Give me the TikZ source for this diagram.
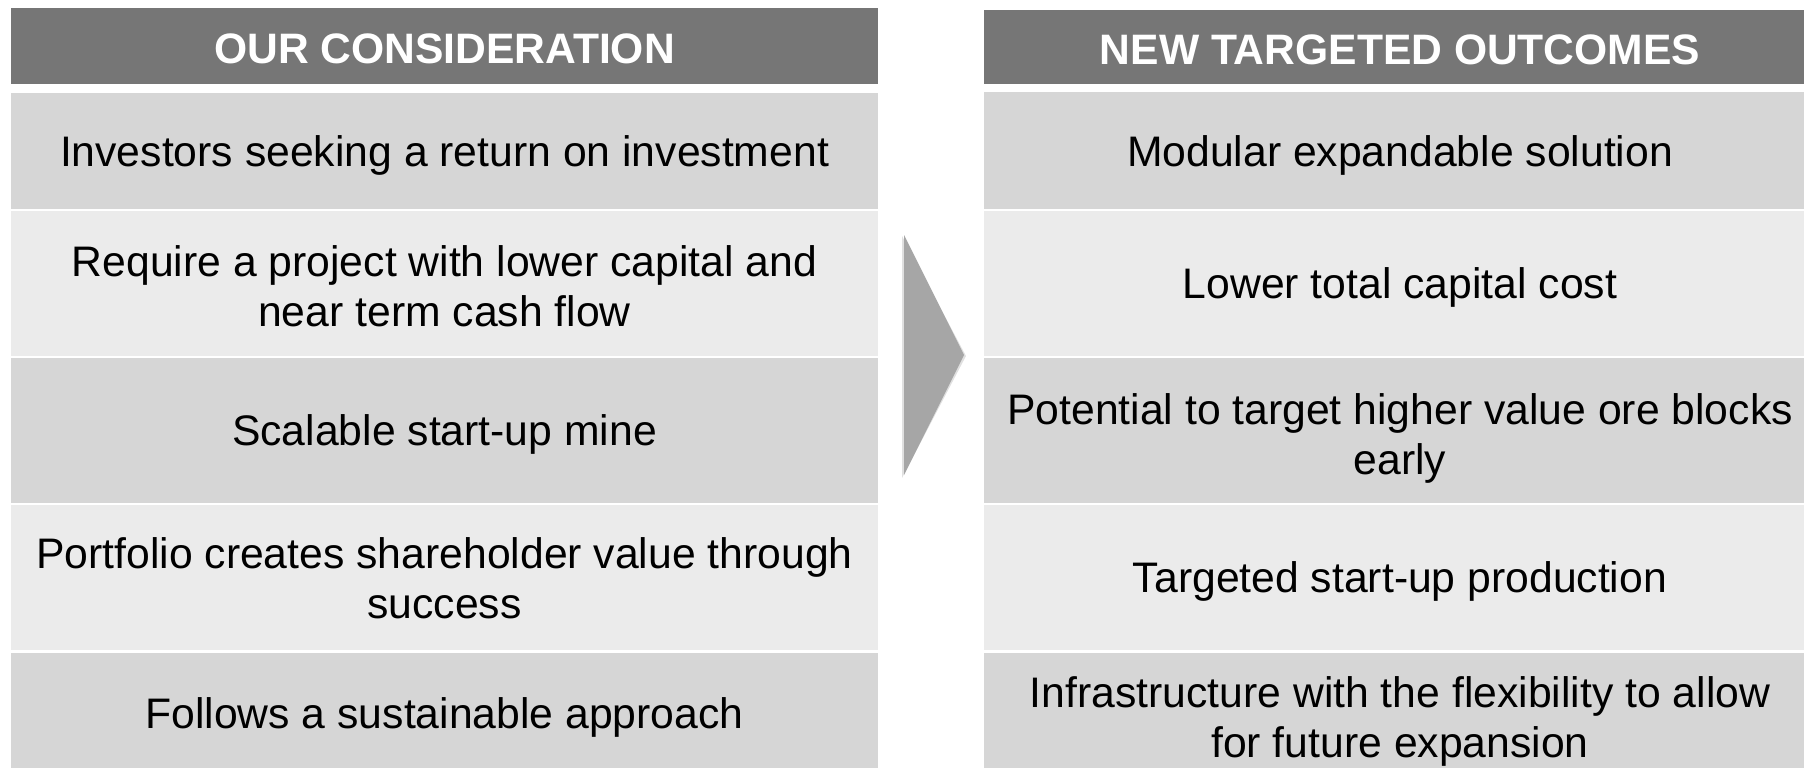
\documentclass[tikz,border=0pt]{standalone}
\usepackage{fontspec}
\setmainfont{Liberation Sans}
\definecolor{hdr}{HTML}{767676}
\definecolor{rowdark}{HTML}{D6D6D6}
\definecolor{rowlight}{HTML}{EBEBEB}
\definecolor{arrowgray}{HTML}{A6A6A6}
\begin{document}
\begin{tikzpicture}[x=1pt,y=-1pt,
  cell/.style={anchor=north west, inner sep=0pt, outer sep=0pt},
  txt/.style={anchor=base, inner sep=0pt, align=center, font=\fontsize{42.7}{50}\selectfont, text=black},
  htxt/.style={anchor=base, inner sep=0pt, text=white, font=\bfseries\fontsize{42.6}{48}\selectfont},
  hdrcell/.style={cell, fill=hdr},
  dark/.style={cell, fill=rowdark},
  light/.style={cell, fill=rowlight}]
\useasboundingbox[fill=white] (0,0) rectangle (1804,768);
% left column boxes
\node[hdrcell, minimum width=867pt, minimum height=76pt] (lh) at (11,8) {};
\node[dark,  minimum width=867pt, minimum height=116pt] (l1) at (11,93) {};
\node[light, minimum width=867pt, minimum height=145pt] (l2) at (11,211) {};
\node[dark,  minimum width=867pt, minimum height=145pt] (l3) at (11,358) {};
\node[light, minimum width=867pt, minimum height=145pt] (l4) at (11,505) {};
\node[dark,  minimum width=867pt, minimum height=115pt] (l5) at (11,653) {};
% right column boxes
\node[hdrcell, minimum width=820pt, minimum height=74pt] (rh) at (984,10) {};
\node[dark,  minimum width=820pt, minimum height=117pt] (r1) at (984,92) {};
\node[light, minimum width=820pt, minimum height=145pt] (r2) at (984,211) {};
\node[dark,  minimum width=820pt, minimum height=145pt] (r3) at (984,358) {};
\node[light, minimum width=820pt, minimum height=145pt] (r4) at (984,505) {};
\node[dark,  minimum width=820pt, minimum height=115pt] (r5) at (984,653) {};
% left texts (base = baseline of last line)
\node[htxt] (lht) at (444.5,63.2) {OUR CONSIDERATION};
\node[txt] (l1t) at (444.5,166.3) {Investors seeking a return on investment};
\node[txt] (l2t) at (444.5,326.3) {Require a project with lower capital and\\near term cash flow};
\node[txt] (l3t) at (444.5,445.8) {Scalable start-up mine};
\node[txt] (l4t) at (444.5,618.3) {Portfolio creates shareholder value through\\success};
\node[txt] (l5t) at (444.5,728.3) {Follows a sustainable approach};
% right texts
\node[htxt] (rht) at (1400,64.2) {NEW TARGETED OUTCOMES};
\node[txt] (r1t) at (1400,166.3) {Modular expandable solution};
\node[txt] (r2t) at (1400,298.8) {Lower total capital cost};
\node[txt] (r3t) at (1400,474.3) {Potential to target higher value ore blocks\\early};
\node[txt] (r4t) at (1400,592.8) {Targeted start-up production};
\node[txt] (r5t) at (1400,757.8) {Infrastructure with the flexibility to allow\\for future expansion};
% arrow
\fill[black, opacity=0.12] (902,236) -- (966,356) -- (902,478) -- cycle;
\fill[arrowgray] (904,235) -- (964,355) -- (904,475) -- cycle;
\end{tikzpicture}
\end{document}
